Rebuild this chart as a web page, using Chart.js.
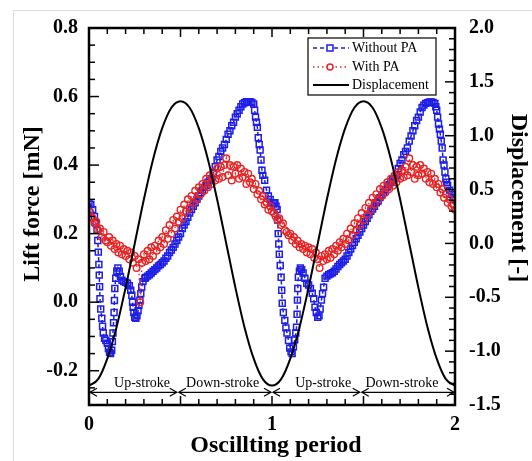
<!DOCTYPE html>
<html>
<head>
<meta charset="utf-8">
<script src="https://cdn.jsdelivr.net/npm/chart.js@4.4.1/dist/chart.umd.min.js"></script>
<style>
  html,body{margin:0;padding:0;background:#fff;}
  #frame{position:absolute;left:13px;top:10px;width:530px;height:460px;border-left:1px solid #dcdcdc;border-top:1px solid #dcdcdc;}
  #wrap{position:absolute;left:0;top:0;width:532px;height:461px;}
</style>
</head>
<body>
<div id="frame"></div>
<div id="wrap"><canvas id="c" width="532" height="461"></canvas></div>
<script>
// ---------------- DATA ----------------
// Without PA : [oscillating period, lift force (mN)]
const withoutPA = [
 [0.000,0.29],[0.010,0.285],[0.020,0.27],[0.030,0.25],[0.038,0.23],[0.044,0.21],[0.048,0.18],[0.051,0.146],
 [0.054,0.11],[0.056,0.079],[0.058,0.045],[0.060,0.01],[0.064,-0.02],[0.070,-0.047],[0.074,-0.07],[0.078,-0.09],
 [0.085,-0.105],[0.092,-0.112],[0.100,-0.12],[0.106,-0.135],[0.112,-0.146],[0.118,-0.15],[0.124,-0.14],[0.128,-0.115],
 [0.131,-0.09],[0.134,-0.06],[0.137,-0.03],[0.139,0.005],[0.141,0.04],[0.146,0.07],[0.152,0.09],[0.158,0.10],
 [0.165,0.09],[0.172,0.075],[0.180,0.064],[0.190,0.06],[0.200,0.058],[0.210,0.055],[0.220,0.048],[0.228,0.035],
 [0.234,0.02],[0.238,0.0],[0.241,-0.015],[0.245,-0.03],[0.250,-0.044],[0.256,-0.047],[0.262,-0.04],[0.268,-0.025],
 [0.273,-0.01],[0.278,0.006],[0.283,0.025],[0.288,0.044],[0.295,0.06],[0.305,0.07],
 [0.31,0.072],[0.32,0.076],[0.33,0.08],[0.34,0.085],[0.35,0.09],[0.36,0.095],[0.37,0.10],[0.38,0.106],[0.39,0.11],
 [0.40,0.115],[0.41,0.12],[0.42,0.128],[0.43,0.135],[0.44,0.145],[0.45,0.152],[0.46,0.16],[0.47,0.17],[0.48,0.18],[0.49,0.19],
 [0.50,0.20],[0.51,0.215],[0.52,0.225],[0.53,0.235],[0.54,0.248],[0.55,0.26],[0.56,0.27],[0.57,0.28],[0.58,0.29],[0.59,0.30],
 [0.60,0.31],[0.61,0.32],[0.62,0.327],[0.63,0.335],[0.64,0.34],[0.65,0.35],[0.66,0.355],[0.67,0.36],[0.68,0.375],[0.69,0.395],
 [0.70,0.415],[0.71,0.425],[0.72,0.44],[0.73,0.45],[0.74,0.46],[0.75,0.475],[0.76,0.49],[0.77,0.50],[0.78,0.515],[0.79,0.525],
 [0.80,0.54],[0.81,0.55],[0.82,0.56],[0.83,0.57],[0.84,0.578],[0.85,0.582],[0.86,0.585],[0.87,0.585],[0.88,0.585],[0.89,0.583],
 [0.900,0.578],[0.905,0.56],[0.910,0.54],[0.915,0.525],[0.920,0.51],[0.925,0.48],[0.930,0.46],[0.935,0.444],[0.940,0.415],
 [0.945,0.385],[0.950,0.37],[0.960,0.356],[0.970,0.327],[0.980,0.31],[0.990,0.30],
 [1.000,0.29],[1.010,0.29],[1.016,0.29],[1.022,0.28],[1.028,0.27],[1.031,0.24],[1.034,0.20],[1.037,0.17],[1.040,0.14],
 [1.045,0.107],[1.050,0.073],[1.053,0.035],[1.056,-0.003],[1.062,-0.03],[1.070,-0.053],[1.076,-0.075],[1.082,-0.09],
 [1.090,-0.112],[1.097,-0.134],[1.104,-0.145],[1.110,-0.15],[1.117,-0.13],[1.124,-0.11],[1.130,-0.09],[1.134,-0.073],
 [1.137,-0.035],[1.139,0.006],[1.141,0.04],[1.144,0.073],[1.150,0.09],[1.155,0.10],[1.162,0.095],[1.170,0.085],
 [1.180,0.07],[1.190,0.055],[1.200,0.05],[1.210,0.04],[1.220,0.026],[1.228,0.01],[1.235,-0.015],[1.242,-0.03],
 [1.250,-0.044],[1.257,-0.04],[1.263,-0.02],[1.270,0.006],[1.276,0.025],[1.282,0.044],[1.290,0.07],[1.300,0.076],
 [1.31,0.08],[1.32,0.083],[1.33,0.086],[1.34,0.09],[1.35,0.097],[1.36,0.104],[1.37,0.11],[1.38,0.115],[1.39,0.12],
 [1.40,0.125],[1.41,0.135],[1.42,0.145],[1.43,0.155],[1.44,0.165],[1.45,0.175],[1.46,0.185],[1.47,0.195],[1.48,0.205],[1.49,0.215],
 [1.50,0.225],[1.51,0.235],[1.52,0.245],[1.53,0.255],[1.54,0.265],[1.55,0.272],[1.56,0.28],[1.57,0.29],[1.58,0.295],[1.59,0.305],
 [1.60,0.313],[1.61,0.32],[1.62,0.328],[1.63,0.336],[1.64,0.343],[1.65,0.35],[1.66,0.357],[1.67,0.362],[1.68,0.37],[1.69,0.39],
 [1.70,0.405],[1.71,0.415],[1.72,0.43],[1.73,0.44],[1.74,0.45],[1.75,0.47],[1.76,0.485],[1.77,0.50],[1.78,0.515],[1.79,0.53],
 [1.80,0.54],[1.81,0.555],[1.82,0.568],[1.83,0.575],[1.84,0.58],[1.85,0.582],[1.86,0.584],[1.87,0.584],[1.88,0.583],[1.89,0.58],
 [1.895,0.57],[1.900,0.56],[1.905,0.54],[1.910,0.52],[1.915,0.505],[1.920,0.49],[1.925,0.47],[1.930,0.45],[1.935,0.415],
 [1.940,0.40],[1.945,0.38],[1.950,0.36],[1.955,0.35],[1.960,0.34],[1.970,0.327],[1.980,0.315],[1.990,0.305],[2.000,0.30]
];

// With PA : lift force (mN), sampled every 0.01 of the oscillating period from 0 to 2
const withPAStep = 0.01;
const withPA = [
 0.265,0.25,0.245,0.23,0.235,0.21,0.215,0.19,0.205,0.18,
 0.175,0.19,0.165,0.18,0.155,0.17,0.145,0.165,0.14,0.155,
 0.135,0.15,0.125,0.145,0.115,0.135,0.10,0.125,0.0,0.115,
 0.14,0.12,0.15,0.125,0.16,0.135,0.165,0.15,0.18,0.16,
 0.19,0.17,0.21,0.185,0.225,0.20,0.24,0.215,0.25,0.235,
 0.27,0.245,0.285,0.265,0.30,0.275,0.31,0.29,0.325,0.30,
 0.335,0.315,0.345,0.325,0.36,0.335,0.37,0.345,0.38,0.355,
 0.39,0.36,0.395,0.365,0.40,0.42,0.37,0.40,0.355,0.395,
 0.375,0.40,0.36,0.39,0.365,0.38,0.345,0.375,0.35,0.36,
 0.33,0.345,0.315,0.325,0.30,0.31,0.285,0.29,0.27,0.28,
 0.265,
 0.26,0.25,0.24,0.245,0.225,0.23,0.21,0.205,0.195,0.20,
 0.18,0.19,0.17,0.18,0.16,0.17,0.155,0.165,0.145,0.16,
 0.14,0.155,0.13,0.145,0.125,0.10,0.135,0.12,0.14,0.125,
 0.15,0.13,0.155,0.14,0.165,0.15,0.175,0.16,0.185,0.17,
 0.20,0.18,0.215,0.195,0.23,0.21,0.245,0.225,0.26,0.24,
 0.275,0.255,0.29,0.27,0.305,0.285,0.315,0.30,0.33,0.31,
 0.34,0.32,0.35,0.33,0.36,0.34,0.37,0.35,0.38,0.36,
 0.385,0.365,0.395,0.37,0.42,0.38,0.40,0.36,0.395,0.37,
 0.40,0.375,0.39,0.36,0.38,0.35,0.375,0.345,0.36,0.335,
 0.345,0.32,0.33,0.305,0.315,0.29,0.30,0.28,0.285,0.27
];

// Displacement (-), sampled every 0.05 of the period
const dispStep = 0.05;
const displacement = [
 -1.32,-1.26,-1.07,-0.78,-0.41,0.0,0.41,0.78,1.07,1.26,
 1.32,1.26,1.07,0.78,0.41,0.0,-0.41,-0.78,-1.07,-1.26,
 -1.32,-1.26,-1.07,-0.78,-0.41,0.0,0.41,0.78,1.07,1.26,
 1.32,1.26,1.07,0.78,0.41,0.0,-0.41,-0.78,-1.07,-1.26,
 -1.32
];

const xTickLabels = [0, 1, 2];
const leftTickLabels = [-0.2, 0.0, 0.2, 0.4, 0.6, 0.8];
const rightTickLabels = [-1.5, -1.0, -0.5, 0.0, 0.5, 1.0, 1.5, 2.0];

const strokeBounds = [0, 0.485, 1, 1.485, 2];
const strokeNames = ['Up-stroke', 'Down-stroke', 'Up-stroke', 'Down-stroke'];
const strokeNameAt = [0.29, 0.73, 1.28, 1.71];
const strokeArrowLift = -0.263;
const strokeTextLift = -0.237;

// ---------------- STYLE ----------------
const BLUE = '#1e1ee6';
const RED = '#e62424';
const SERIF = "'Liberation Serif', 'Times New Roman', serif";

const decor = {
  id: 'decor',
  afterDatasetsDraw(chart) {
    const {ctx, chartArea: a, scales} = chart;
    const sx = scales.x, sy = scales.y, sy2 = scales.y2;
    ctx.save();
    ctx.strokeStyle = '#000';
    ctx.lineWidth = 1.5;
    const seg = (x1, y1, x2, y2) => { ctx.beginPath(); ctx.moveTo(x1, y1); ctx.lineTo(x2, y2); ctx.stroke(); };
    for (let k = 0; k <= 20; k++) {
      const px = sx.getPixelForValue(k * 0.1);
      const len = (k % 5 === 0) ? 9 : 6;
      seg(px, a.bottom, px, a.bottom - len);
      seg(px, a.top, px, a.top + len);
    }
    for (let k = 0; k <= 22; k++) {
      const v = -0.3 + k * 0.05;
      const py = sy.getPixelForValue(v);
      const r = v / 0.2;
      const len = Math.abs(r - Math.round(r)) < 1e-6 ? 10 : 6;
      seg(a.left, py, a.left + len, py);
    }
    for (let k = 0; k <= 35; k++) {
      const v = -1.5 + k * 0.1;
      const py = sy2.getPixelForValue(v);
      const r = v / 0.5;
      const len = Math.abs(r - Math.round(r)) < 1e-6 ? 10 : 6;
      seg(a.right, py, a.right - len, py);
    }
    ctx.lineWidth = 2.5;
    ctx.strokeRect(a.left, a.top, a.right - a.left, a.bottom - a.top);

    // stroke arrows
    ctx.lineWidth = 1.2;
    const ay = sy.getPixelForValue(strokeArrowLift);
    for (let i = 0; i < strokeNames.length; i++) {
      const x1 = sx.getPixelForValue(strokeBounds[i]) + 1;
      const x2 = sx.getPixelForValue(strokeBounds[i + 1]) - 1;
      seg(x1, ay, x2, ay);
      ctx.beginPath(); ctx.moveTo(x1 + 7, ay - 4); ctx.lineTo(x1, ay); ctx.lineTo(x1 + 7, ay + 4); ctx.stroke();
      ctx.beginPath(); ctx.moveTo(x2 - 7, ay - 4); ctx.lineTo(x2, ay); ctx.lineTo(x2 - 7, ay + 4); ctx.stroke();
    }
    ctx.fillStyle = '#000';
    ctx.font = '14px ' + SERIF;
    ctx.textAlign = 'center';
    ctx.textBaseline = 'middle';
    const ty = sy.getPixelForValue(strokeTextLift);
    for (let i = 0; i < strokeNames.length; i++) {
      ctx.fillText(strokeNames[i], sx.getPixelForValue(strokeNameAt[i]), ty);
    }

    // legend box
    const L = {x: 308, y: 38, w: 128, h: 57};
    ctx.fillStyle = '#fff';
    ctx.fillRect(L.x, L.y, L.w, L.h);
    ctx.lineWidth = 1.2;
    ctx.strokeStyle = '#000';
    ctx.strokeRect(L.x, L.y, L.w, L.h);
    const rows = [
      {text: 'Without PA', color: BLUE, dash: [4, 3], marker: 'rect', y: 48},
      {text: 'With PA', color: RED, dash: [1.5, 3], marker: 'circle', y: 67},
      {text: 'Displacement', color: '#000', dash: [], marker: null, y: 85}
    ];
    rows.forEach(r => {
      ctx.strokeStyle = r.color;
      ctx.lineWidth = r.marker ? 1.5 : 2;
      ctx.setLineDash(r.dash);
      seg(313, r.y, 349, r.y);
      ctx.setLineDash([]);
      if (r.marker === 'rect') {
        ctx.fillStyle = '#fff';
        ctx.fillRect(327, r.y - 3, 6, 6);
        ctx.strokeRect(327, r.y - 3, 6, 6);
      } else if (r.marker === 'circle') {
        ctx.fillStyle = '#fff';
        ctx.beginPath(); ctx.arc(330, r.y, 3, 0, Math.PI * 2); ctx.fill(); ctx.stroke();
      }
      ctx.fillStyle = '#000';
      ctx.font = '14px ' + SERIF;
      ctx.textAlign = 'left';
      ctx.textBaseline = 'middle';
      ctx.fillText(r.text, 352, r.y);
    });

    // axis titles
    ctx.fillStyle = '#000';
    ctx.font = 'bold 24px ' + SERIF;
    ctx.textAlign = 'center';
    ctx.textBaseline = 'middle';
    ctx.fillText('Oscillting period', 276, 446);
    ctx.save();
    ctx.translate(33, 204);
    ctx.rotate(-Math.PI / 2);
    ctx.fillText('Lift force [mN]', 0, 0);
    ctx.restore();
    ctx.save();
    ctx.translate(518, 198);
    ctx.rotate(Math.PI / 2);
    ctx.fillText('Displacement [-]', 0, 0);
    ctx.restore();
    ctx.restore();
  }
};

const tickFont = {family: SERIF, size: 20, weight: 'bold'};

new Chart(document.getElementById('c'), {
  type: 'line',
  data: {
    datasets: [
      {
        label: 'Displacement',
        data: displacement.map((v, i) => ({x: i * dispStep, y: v})),
        yAxisID: 'y2',
        borderColor: '#000',
        borderWidth: 2,
        pointRadius: 0,
        cubicInterpolationMode: 'monotone',
        order: 1
      },
      {
        label: 'With PA',
        data: withPA.map((v, i) => ({x: i * withPAStep, y: v})),
        yAxisID: 'y',
        borderColor: RED,
        borderWidth: 1.3,
        borderDash: [1.5, 3],
        pointStyle: 'circle',
        pointRadius: 3.3,
        pointBorderWidth: 1.4,
        pointBorderColor: RED,
        pointBackgroundColor: 'rgba(0,0,0,0)',
        order: 2
      },
      {
        label: 'Without PA',
        data: withoutPA.map(p => ({x: p[0], y: p[1]})),
        yAxisID: 'y',
        borderColor: BLUE,
        borderWidth: 1.5,
        borderDash: [4, 3],
        pointStyle: 'rect',
        pointRadius: 4.2,
        pointBorderWidth: 1.5,
        pointBorderColor: BLUE,
        pointBackgroundColor: 'rgba(0,0,0,0)',
        order: 3
      }
    ]
  },
  options: {
    responsive: false,
    animation: false,
    devicePixelRatio: 1,
    layout: {padding: {top: 28, left: 0, right: 0, bottom: 0}},
    plugins: {legend: {display: false}, tooltip: {enabled: false}},
    scales: {
      x: {
        type: 'linear', min: 0, max: 2,
        grid: {display: false, drawTicks: false},
        border: {display: false},
        afterBuildTicks: s => { s.ticks = xTickLabels.map(v => ({value: v})); },
        afterFit: s => { s.height = 56; },
        ticks: {font: tickFont, color: '#000', padding: 8, maxRotation: 0, autoSkip: false, callback: v => String(v)}
      },
      y: {
        type: 'linear', position: 'left', min: -0.3, max: 0.8,
        grid: {display: false, drawTicks: false},
        border: {display: false},
        afterBuildTicks: s => { s.ticks = leftTickLabels.map(v => ({value: v})); },
        afterFit: s => { s.width = 89; },
        ticks: {font: tickFont, color: '#000', padding: 11, autoSkip: false, callback: v => Number(v).toFixed(1)}
      },
      y2: {
        type: 'linear', position: 'right', min: -1.5, max: 2.0,
        grid: {display: false, drawTicks: false},
        border: {display: false},
        afterBuildTicks: s => { s.ticks = rightTickLabels.map(v => ({value: v})); },
        afterFit: s => { s.width = 77; },
        ticks: {font: tickFont, color: '#000', padding: 14, autoSkip: false, callback: v => Number(v).toFixed(1)}
      }
    }
  },
  plugins: [decor]
});
</script>
</body>
</html>
